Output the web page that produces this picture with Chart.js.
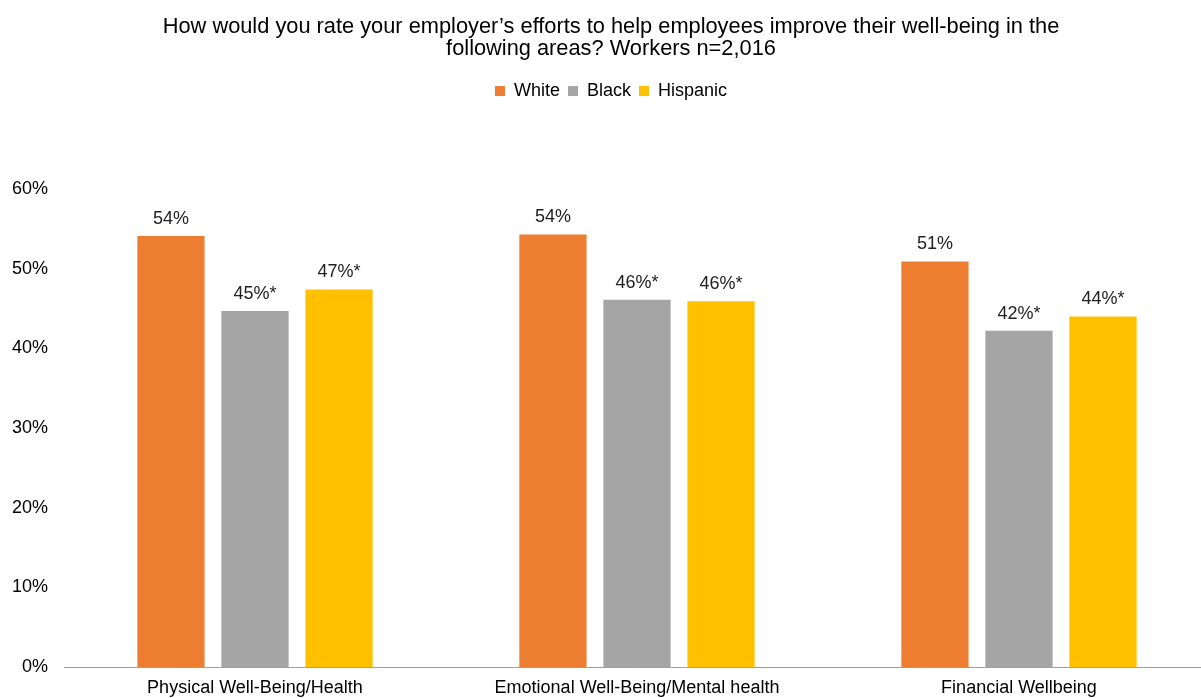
<!DOCTYPE html>
<html>
<head>
<meta charset="utf-8">
<script src="https://cdn.jsdelivr.net/npm/chart.js@4"></script>
<style>
  body { margin: 0; background: #fff; overflow: hidden; }
  #wrap { width: 1232px; height: 698px; }
</style>
</head>
<body>
<div id="wrap"><canvas id="barChart"></canvas></div>
<script>
var categories = ['Physical Well-Being/Health', 'Emotional Well-Being/Mental health', 'Financial Wellbeing'];
var white = [54.1, 54.3, 50.9];
var black = [44.7, 46.1, 42.2];
var hispanic = [47.4, 45.9, 44.0];
// * = significant difference vs. White
var blackSig = [true, true, true];
var hispanicSig = [true, true, true];
var yTicks = [0, 10, 20, 30, 40, 50, 60];

Chart.defaults.font.family = '"Liberation Sans", Arial, sans-serif';
Chart.defaults.color = '#222';

// draws the value labels above each bar
var barLabels = {
    id: 'barLabels',
    afterDatasetsDraw: function(chart) {
        var ctx = chart.ctx;
        ctx.save();
        ctx.font = '18px "Liberation Sans", Arial, sans-serif';
        ctx.fillStyle = '#222';
        ctx.textAlign = 'center';
        ctx.textBaseline = 'bottom';
        chart.data.datasets.forEach(function(ds, i) {
            var meta = chart.getDatasetMeta(i);
            meta.data.forEach(function(bar, j) {
                var txt = Math.round(ds.data[j]) + '%' + (ds.sig && ds.sig[j] ? '*' : '');
                ctx.fillText(txt, bar.x, bar.y - 8);
            });
        });
        ctx.restore();
    }
};

// extra room under the legend
var legendGap = {
    id: 'legendGap',
    beforeInit: function(chart) {
        var fit = chart.legend.fit;
        chart.legend.fit = function() {
            fit.bind(chart.legend)();
            this.height += 79;
        };
    }
};

var ctx = document.getElementById('barChart').getContext('2d');

var myChart = new Chart(ctx, {
    type: 'bar',
    data: {
        labels: categories,
        datasets: [{
            label: 'White',
            data: white,
            backgroundColor: '#ED7D31'
        }, {
            label: 'Black',
            data: black,
            sig: blackSig,
            backgroundColor: '#A5A5A5'
        }, {
            label: 'Hispanic',
            data: hispanic,
            sig: hispanicSig,
            backgroundColor: '#FFC000'
        }]
    },
    options: {
        responsive: true,
        maintainAspectRatio: false,
        animation: false,
        layout: { padding: { top: 4, left: 12, right: 22, bottom: 0 } },
        datasets: {
            bar: { categoryPercentage: 0.66, barPercentage: 0.8 }
        },
        plugins: {
            title: {
                display: true,
                text: ['How would you rate your employer\u2019s efforts to help employees improve their well-being in the', 'following areas? Workers n=2,016'],
                color: '#000',
                font: { size: 21.8, weight: 'normal', lineHeight: 1.01 },
                padding: { top: 12, bottom: 14 }
            },
            legend: {
                labels: {
                    boxWidth: 10,
                    boxHeight: 10,
                    color: '#000',
                    font: { size: 18 },
                    padding: 8
                }
            },
            tooltip: { enabled: false }
        },
        scales: {
            x: {
                grid: { display: false, drawTicks: false },
                border: { display: true, color: '#A0A0A0', width: 1 },
                afterFit: function(axis) { axis.height = 31; },
                ticks: { font: { size: 18, lineHeight: 1 }, padding: 12, color: '#000' }
            },
            y: {
                min: 0,
                max: 60,
                grid: { display: false, drawTicks: false },
                border: { display: false },
                afterFit: function(axis) { axis.width = 52; },
                afterBuildTicks: function(axis) {
                    axis.ticks = yTicks.map(function(v) { return { value: v }; });
                },
                ticks: {
                    font: { size: 18 },
                    padding: 16,
                    color: '#000',
                    callback: function(v) { return v + '%'; }
                }
            }
        }
    },
    plugins: [barLabels, legendGap]
});
</script>
</body>
</html>
